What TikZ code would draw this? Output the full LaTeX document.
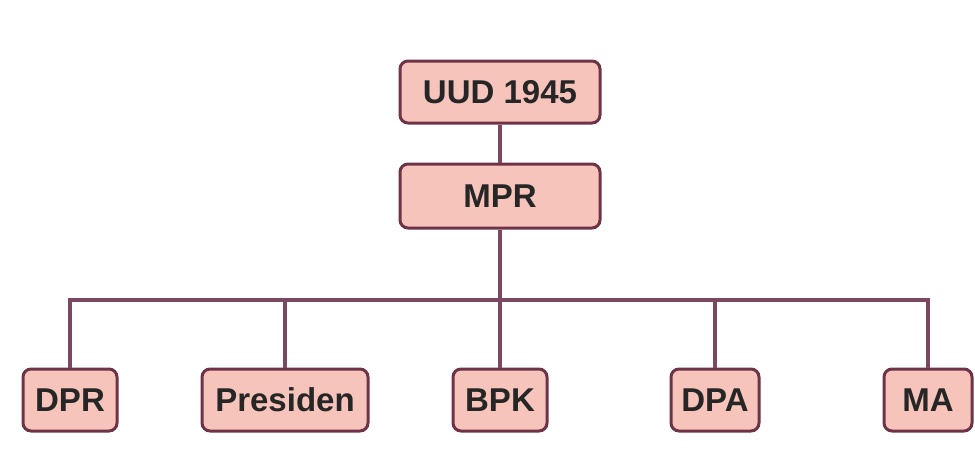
\documentclass[tikz,border=0pt]{standalone}
\usepackage{fontspec}
\setmainfont{Liberation Sans}
\definecolor{boxfill}{HTML}{F7C4BB}
\definecolor{boxline}{HTML}{6E3346}
\definecolor{wire}{HTML}{7B4761}
\begin{document}
\begin{tikzpicture}[x=1pt,y=-1pt,
  orgbox/.style={draw=boxline, fill=boxfill, line width=3pt, rounded corners=8pt,
    minimum height=62pt, inner sep=0pt, font=\fontsize{33}{38}\selectfont\bfseries, text=black!85},
  wireline/.style={draw=wire, line width=3.2pt}]
\useasboundingbox (0,0) rectangle (975,455);
\node[orgbox, minimum width=200pt] (uud) at (500,92) {UUD 1945};
\node[orgbox, minimum width=200pt, minimum height=64pt] (mpr) at (500,196) {MPR};
\node[orgbox, minimum width=94pt] (dpr) at (70,400) {DPR};
\node[orgbox, minimum width=166pt] (pres) at (285,400) {Presiden};
\node[orgbox, minimum width=94pt] (bpk) at (500,400) {BPK};
\node[orgbox, minimum width=88pt] (dpa) at (715,400) {DPA};
\node[orgbox, minimum width=88pt] (ma) at (928,400) {MA};
\coordinate (bus) at (500,300);
\draw[wireline] (uud.south) -- (mpr.north);
\draw[wireline] (mpr.south) -- (bus);
\draw[wireline] (dpr.north) -- (dpr.north |- bus) -- (ma.north |- bus) -- (ma.north);
\draw[wireline] (pres.north) -- (pres.north |- bus);
\draw[wireline] (bpk.north) -- (bpk.north |- bus);
\draw[wireline] (dpa.north) -- (dpa.north |- bus);
\end{tikzpicture}
\end{document}
